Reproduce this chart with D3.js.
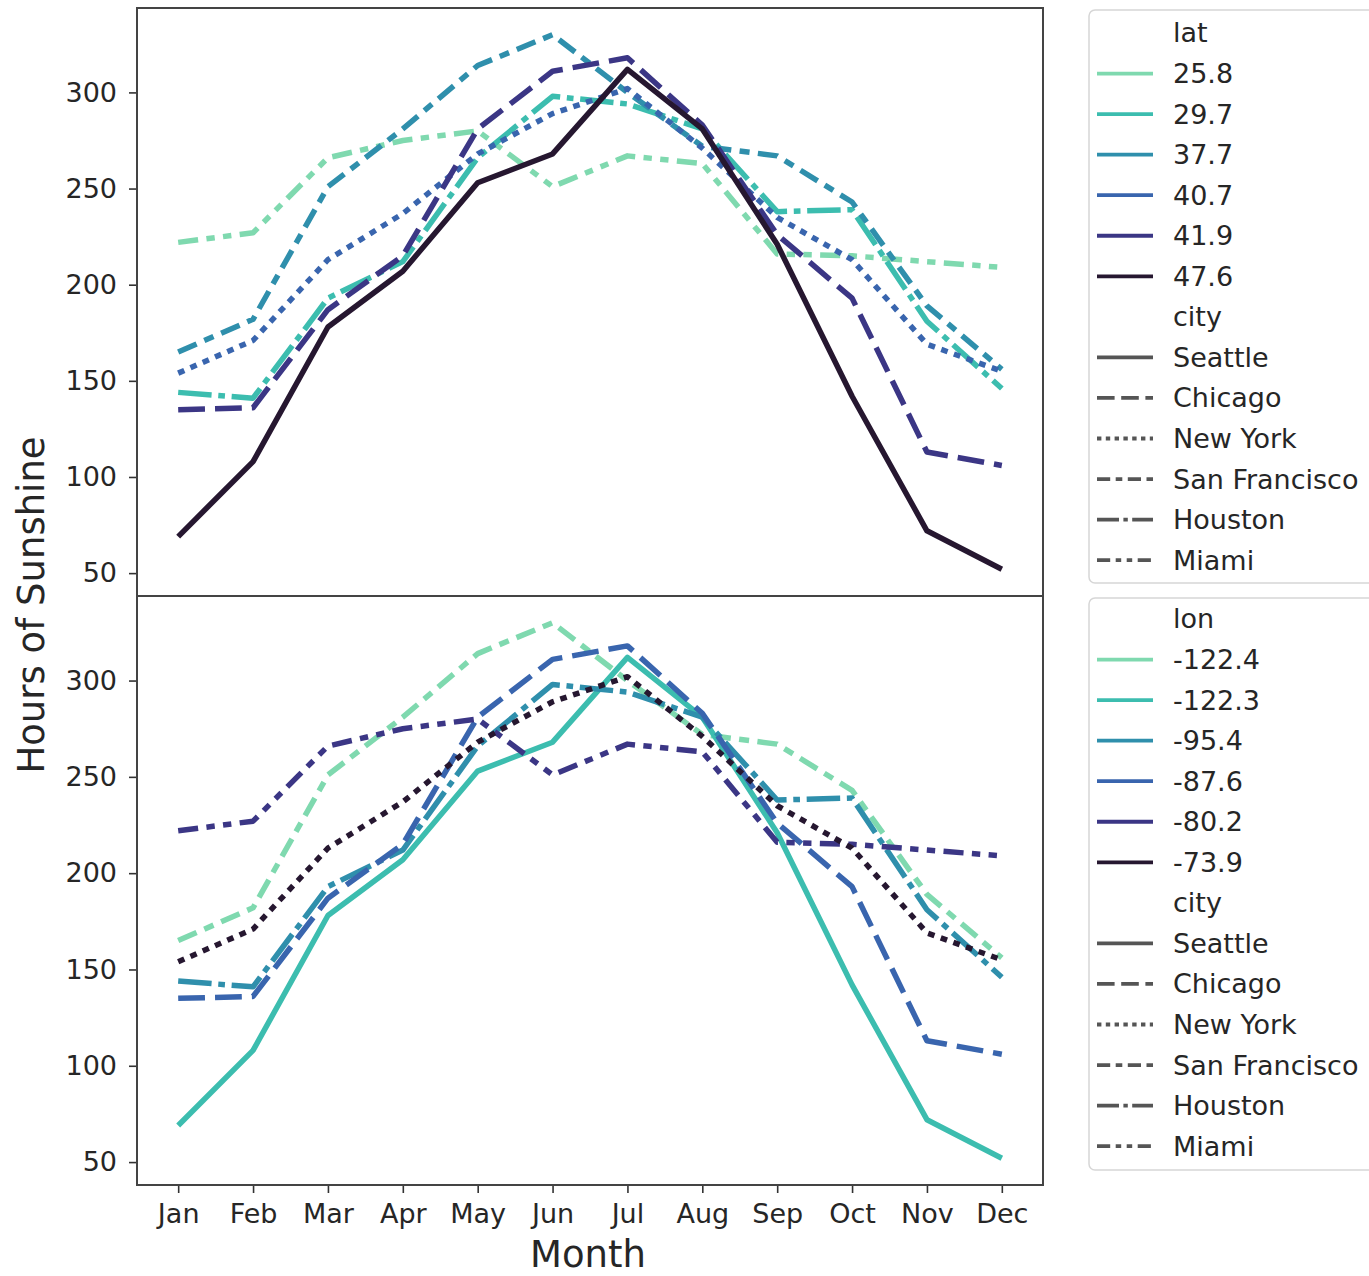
<!DOCTYPE html>
<html>
<head>
<meta charset="utf-8">
<script src="https://cdn.jsdelivr.net/npm/d3@7"></script>
<style>
  body { margin: 0; background: #fff; }
  svg text { font-family: "DejaVu Sans", sans-serif; fill: #262626; }
</style>
</head>
<body>
<svg id="chart" width="1369" height="1276"></svg>
<script>
// Monthly hours of sunshine for six US cities
const months = ["Jan", "Feb", "Mar", "Apr", "May", "Jun", "Jul", "Aug", "Sep", "Oct", "Nov", "Dec"];
const cities = ["Seattle", "Chicago", "New York", "San Francisco", "Houston", "Miami"];
const lat = [47.6, 41.9, 40.7, 37.7, 29.7, 25.8];
const lon = [-122.3, -87.6, -73.9, -122.4, -95.4, -80.2];

const seattle      = [69, 108, 178, 207, 253, 268, 312, 281, 221, 142, 72, 52];
const chicago      = [135, 136, 187, 215, 281, 311, 318, 283, 226, 193, 113, 106];
const newYork      = [154, 171, 213, 237, 268, 289, 302, 271, 235, 213, 169, 155];
const sanFrancisco = [165, 182, 251, 281, 314, 330, 300, 272, 267, 243, 189, 156];
const houston      = [144, 141, 193, 212, 266, 298, 294, 281, 238, 239, 181, 146];
const miami        = [222, 227, 266, 275, 280, 251, 267, 263, 216, 215, 212, 209];
const sunshine = [seattle, chicago, newYork, sanFrancisco, houston, miami];

const yTicks = [50, 100, 150, 200, 250, 300];

// six-step light-to-dark ramp (mako, reversed)
const palette = ["#7fd9af", "#3cbdaf", "#2f8fac", "#3965ae", "#3b3685", "#261730"];
// dash patterns, in multiples of the dash unit
const dashes = [null, [4, 1.5], [1, 1], [3, 1.25, 1.5, 1.25], [5, 1, 1, 1], [3, 1.25, 1.25, 1.25, 1.25, 1.25]];

const svg = d3.select("#chart");
const plotLeft = 137, plotRight = 1043;
const panels = [
  { top: 8, bottom: 596, name: "lat", levels: lat, legendTop: 10, legendBottom: 583, firstRow: 33 },
  { top: 596, bottom: 1185, name: "lon", levels: lon, legendTop: 598, legendBottom: 1170, firstRow: 619 }
];

const x = d3.scalePoint().domain(months).range([plotLeft, plotRight]).padding(0.55);
const all = sunshine.flat();
const lo = d3.min(all), hi = d3.max(all), pad = 0.05 * (hi - lo);

const lw = 5.5, unit = 6.7;
const fs = 27;
const dashStr = (d, u) => d ? d.map(v => v * u).join(",") : null;

panels.forEach((p, pi) => {
  const y = d3.scaleLinear().domain([lo - pad, hi + pad]).range([p.bottom, p.top]);
  const sortedLevels = p.levels.slice().sort((a, b) => a - b);
  const colorOf = v => palette[sortedLevels.indexOf(v)];

  const g = svg.append("g");
  const clipId = "clip" + pi;
  svg.append("clipPath").attr("id", clipId).append("rect")
    .attr("x", plotLeft).attr("y", p.top).attr("width", plotRight - plotLeft).attr("height", p.bottom - p.top);

  const line = d3.line().x((d, i) => x(months[i])).y(d => y(d));
  // draw in ascending order of the hue variable
  const order = d3.range(cities.length).sort((a, b) => p.levels[a] - p.levels[b]);
  const lines = g.append("g").attr("clip-path", `url(#${clipId})`);
  order.forEach(ci => {
    lines.append("path")
      .datum(sunshine[ci])
      .attr("d", line)
      .attr("fill", "none")
      .attr("stroke", colorOf(p.levels[ci]))
      .attr("stroke-width", lw)
      .attr("stroke-linejoin", "round")
      .attr("stroke-dasharray", dashStr(dashes[ci], unit));
  });

  // y axis
  const yAxis = g.append("g").attr("transform", `translate(${plotLeft},0)`)
    .call(d3.axisLeft(y).tickValues(yTicks).tickSize(8).tickPadding(12));
  yAxis.select(".domain").remove();
  yAxis.selectAll(".tick line").attr("stroke", "#333").attr("stroke-width", 1.6);
  yAxis.selectAll(".tick text").attr("font-size", fs).attr("fill", "#262626")
    .style("font-family", '"DejaVu Sans", sans-serif');

  // x axis on the lower panel only
  if (pi === 1) {
    const xAxis = g.append("g").attr("transform", `translate(0,${p.bottom})`)
      .call(d3.axisBottom(x).tickSize(8).tickPadding(11));
    xAxis.select(".domain").remove();
    xAxis.selectAll(".tick line").attr("stroke", "#333").attr("stroke-width", 1.6);
    xAxis.selectAll(".tick text").attr("font-size", fs).attr("fill", "#262626")
      .style("font-family", '"DejaVu Sans", sans-serif');
  }

  // frame
  g.append("rect")
    .attr("x", plotLeft).attr("y", p.top)
    .attr("width", plotRight - plotLeft).attr("height", p.bottom - p.top)
    .attr("fill", "none").attr("stroke", "#444").attr("stroke-width", 2);

  // legend
  const lg = svg.append("g");
  lg.append("rect")
    .attr("x", 1089).attr("y", p.legendTop)
    .attr("width", 330).attr("height", p.legendBottom - p.legendTop)
    .attr("rx", 6).attr("fill", "#fff").attr("fill-opacity", 0.8)
    .attr("stroke", "#d6d6d6").attr("stroke-width", 1.5);

  const rows = [];
  rows.push({ label: p.name, title: true });
  sortedLevels.forEach(v => rows.push({ label: String(v), color: colorOf(v) }));
  rows.push({ label: "city", title: true });
  cities.forEach((c, ci) => rows.push({ label: c, color: "#555", dash: dashes[ci] }));

  const step = 40.55;
  rows.forEach((r, i) => {
    const ry = p.firstRow + i * step;
    if (!r.title) {
      lg.append("line")
        .attr("x1", 1097).attr("x2", 1153).attr("y1", ry).attr("y2", ry)
        .attr("stroke", r.color).attr("stroke-width", 3.8)
        .attr("stroke-dasharray", r.dash ? dashStr(r.dash, 4.4) : null);
    }
    lg.append("text")
      .attr("x", 1173).attr("y", ry).attr("dy", "0.35em")
      .attr("font-size", fs)
      .text(r.label);
  });
});

// axis titles
svg.append("text")
  .attr("transform", "translate(44,605) rotate(-90)")
  .attr("text-anchor", "middle")
  .attr("font-size", 37)
  .text("Hours of Sunshine");

svg.append("text")
  .attr("x", 588).attr("y", 1267)
  .attr("text-anchor", "middle")
  .attr("font-size", 37)
  .text("Month");
</script>
</body>
</html>
